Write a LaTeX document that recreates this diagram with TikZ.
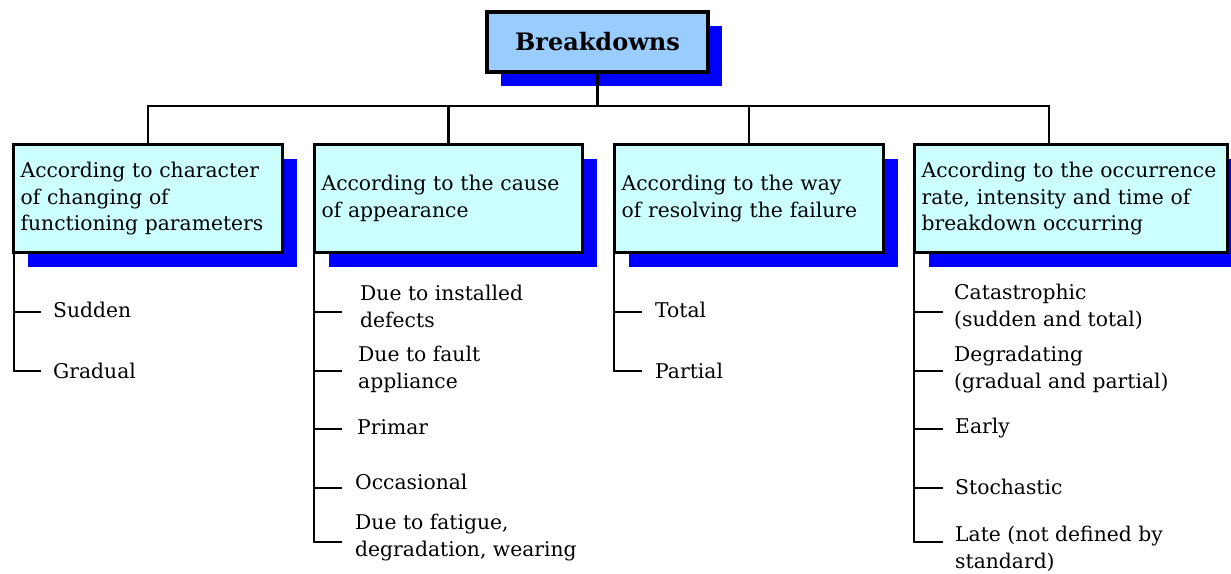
\documentclass[tikz,border=0pt]{standalone}
\usepackage{fontspec}
\setmainfont{DejaVu Serif}
\usetikzlibrary{shadows}
\definecolor{topfill}{HTML}{99CCFF}
\definecolor{boxfill}{HTML}{CCFFFF}
\definecolor{shadowblue}{HTML}{0000FF}
\begin{document}
\begin{tikzpicture}[x=1pt,y=-1pt,
  every node/.style={font=\fontsize{20.3}{26.5}\selectfont},
  boxshadow/.style={drop shadow={shadow xshift=14pt,shadow yshift=-14pt,fill=shadowblue,opacity=1}},
  topbox/.style={draw,line width=3.2pt,fill=topfill,boxshadow,minimum width=221pt,minimum height=60pt,inner sep=0pt,font=\fontsize{24}{28}\selectfont\bfseries},
  catbox/.style={draw,line width=3.2pt,fill=boxfill,boxshadow,anchor=north west,inner xsep=7pt,align=left,minimum height=108pt},
  leaf/.style={anchor=west,inner sep=0pt,align=left,font=\fontsize{20.3}{27}\selectfont},
  conn/.style={line width=2.4pt}]
\useasboundingbox (0,0) rectangle (1231,573);
% top
\node[topbox] (top) at (597.5,42) {Breakdowns};
% category boxes
\node[catbox,minimum width=269pt,text width=255pt] (b1) at (12,143) {According to character\\of changing of\\functioning parameters};
\node[catbox,minimum width=268pt,text width=254pt] (b2) at (313,143) {According to the cause\\of appearance};
\node[catbox,minimum width=269pt,text width=255pt] (b3) at (613,143) {According to the way\\of resolving the failure};
\node[catbox,minimum width=313pt,text width=299pt] (b4) at (913,143) {According to the occurrence\\rate, intensity and time of\\breakdown occurring};
% tree connectors
\coordinate (bar) at (0,106);
\coordinate (d4) at (1049,143);
\draw[conn] (top.south) -- (top.south |- bar);
\draw[conn] (b1.north) -- (b1.north |- bar) -- (d4 |- bar) -- (d4);
\draw[conn] (b2.north) -- (b2.north |- bar);
\draw[conn] (b3.north) -- (b3.north |- bar);
% spines
\coordinate (s1) at (14,251);
\coordinate (s2) at (314,251);
\coordinate (s3) at (614,251);
\coordinate (s4) at (914,251);
% column 1
\node[leaf] (su) at (53,310) {Sudden};
\node[leaf] (gr) at (53,371) {Gradual};
\draw[conn] ([yshift=-2pt]su.west -| s1) -- ([xshift=-12pt,yshift=-2pt]su.west);
\draw[conn] (s1) |- ([xshift=-12pt]gr.west);
% column 2
\node[leaf] (p1) at (360,306.5) {Due to installed\\defects};
\node[leaf] (p2) at (358,369.5) {Due to fault\\appliance};
\node[leaf] (p3) at (357,427) {Primar};
\node[leaf] (p4) at (355,482) {Occasional};
\node[leaf] (p5) at (355,538) {Due to fatigue,\\degradation, wearing};
\draw[conn] ([yshift=-5.5pt]p1.west -| s2) -- ([xshift=-18pt,yshift=-5.5pt]p1.west);
\draw[conn] ([yshift=-1.5pt]p2.west -| s2) -- ([xshift=-16pt,yshift=-1.5pt]p2.west);
\draw[conn] ([yshift=-2pt]p3.west -| s2) -- ([xshift=-15pt,yshift=-2pt]p3.west);
\draw[conn] ([yshift=-6pt]p4.west -| s2) -- ([xshift=-13pt,yshift=-6pt]p4.west);
\draw[conn] (s2) |- ([xshift=-13pt,yshift=-4pt]p5.west);
% column 3
\node[leaf] (to) at (655,310) {Total};
\node[leaf] (pa) at (655,371) {Partial};
\draw[conn] ([yshift=-2pt]to.west -| s3) -- ([xshift=-13pt,yshift=-2pt]to.west);
\draw[conn] (s3) |- ([xshift=-13pt]pa.west);
% column 4
\node[leaf] (c1) at (954,306.5) {Catastrophic\\(sudden and total)};
\node[leaf] (c2) at (954,369.5) {Degradating\\(gradual and partial)};
\node[leaf] (c3) at (955,428) {Early};
\node[leaf] (c4) at (955,487) {Stochastic};
\node[leaf] (c5) at (955,549) {Late (not defined by\\standard)};
\draw[conn] ([yshift=-5.5pt]c1.west -| s4) -- ([xshift=-11pt,yshift=-5.5pt]c1.west);
\draw[conn] ([yshift=-1.5pt]c2.west -| s4) -- ([xshift=-11pt,yshift=-1.5pt]c2.west);
\draw[conn] ([yshift=-1pt]c3.west -| s4) -- ([xshift=-12pt,yshift=-1pt]c3.west);
\draw[conn] ([yshift=-1pt]c4.west -| s4) -- ([xshift=-12pt,yshift=-1pt]c4.west);
\draw[conn] (s4) |- ([xshift=-12pt,yshift=7pt]c5.west);
\end{tikzpicture}
\end{document}
